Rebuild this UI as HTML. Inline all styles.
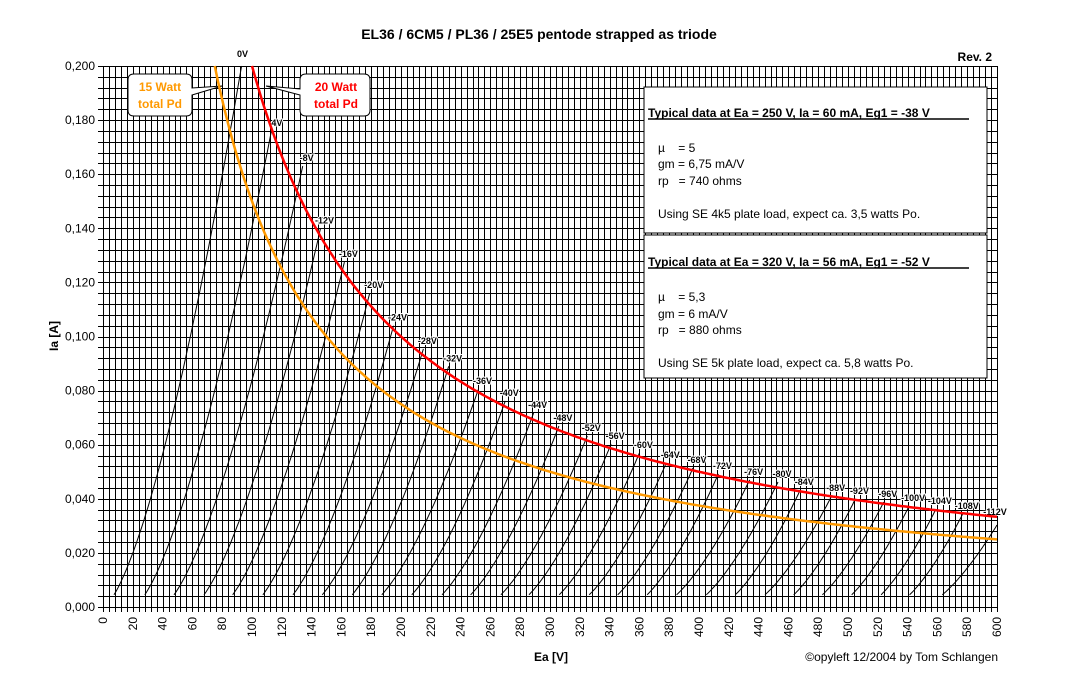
<!DOCTYPE html>
<html><head><meta charset="utf-8"><style>
html,body{margin:0;padding:0;background:#fff;}
svg{display:block;font-family:"Liberation Sans",Arial,sans-serif;}
</style></head><body>
<svg id="chart" width="1078" height="680" viewBox="0 0 1078 680">
<rect x="0" y="0" width="1078" height="680" fill="#fff"/>
<text x="539" y="39" text-anchor="middle" font-size="14" font-weight="bold">EL36 / 6CM5 / PL36 / 25E5 pentode strapped as triode</text>
<text x="992" y="61" text-anchor="end" font-size="12" font-weight="bold">Rev. 2</text>
<g id="grid"></g>
<g id="axes"></g>
<g id="curves"></g>
<g id="power"></g>
<g>
<path d="M134,74 Q128,74 128,80 L128,110 Q128,116 134,116 L186,116 Q192,116 192,110 L192,95 L222,86 L192,88 L192,80 Q192,74 186,74 Z" fill="#fff" stroke="#000" stroke-width="1"/>
<text x="160" y="91" text-anchor="middle" font-size="12" font-weight="bold" fill="#ff9900">15 Watt</text>
<text x="160" y="108" text-anchor="middle" font-size="12" font-weight="bold" fill="#ff9900">total Pd</text>
</g>
<g>
<path d="M306,74 Q300,74 300,80 L300,89 L266,86 L300,95 L300,110 Q300,116 306,116 L364,116 Q370,116 370,110 L370,80 Q370,74 364,74 Z" fill="#fff" stroke="#000" stroke-width="1"/>
<text x="336" y="91" text-anchor="middle" font-size="12" font-weight="bold" fill="#ff0000">20 Watt</text>
<text x="336" y="108" text-anchor="middle" font-size="12" font-weight="bold" fill="#ff0000">total Pd</text>
</g>
<g>
<rect x="644" y="87" width="343" height="146" fill="#fff" stroke="#000" stroke-width="1"/>
<text x="648" y="117" font-size="12" font-weight="bold">Typical data at Ea = 250 V, Ia = 60 mA, Eg1 = -38 V</text>
<line x1="648" y1="119" x2="969" y2="119" stroke="#000" stroke-width="1.5"/>
<text x="658" y="152" font-size="12">µ&#160;&#160;&#160; = 5</text>
<text x="658" y="168" font-size="12">gm = 6,75 mA/V</text>
<text x="658" y="185" font-size="12">rp&#160;&#160; = 740 ohms</text>
<text x="658" y="218" font-size="12">Using SE 4k5 plate load, expect ca. 3,5 watts Po.</text>
</g>
<g>
<rect x="644" y="235" width="343" height="143" fill="#fff" stroke="#000" stroke-width="1"/>
<text x="648" y="266" font-size="12" font-weight="bold">Typical data at Ea = 320 V, Ia = 56 mA, Eg1 = -52 V</text>
<line x1="648" y1="268" x2="969" y2="268" stroke="#000" stroke-width="1.5"/>
<text x="658" y="301" font-size="12">µ&#160;&#160;&#160; = 5,3</text>
<text x="658" y="318" font-size="12">gm = 6 mA/V</text>
<text x="658" y="334" font-size="12">rp&#160;&#160; = 880 ohms</text>
<text x="658" y="367" font-size="12">Using SE 5k plate load, expect ca. 5,8 watts Po.</text>
</g>
<text x="551" y="661" text-anchor="middle" font-size="12" font-weight="bold">Ea [V]</text>
<text transform="translate(58,336) rotate(-90)" text-anchor="middle" font-size="12" font-weight="bold">Ia [A]</text>
<text x="998" y="661" text-anchor="end" font-size="12">©opyleft 12/2004 by Tom Schlangen</text>
</svg>
<script>
const gridVolts = [0,-4,-8,-12,-16,-20,-24,-28,-32,-36,-40,-44,-48,-52,-56,-60,-64,-68,-72,-76,-80,-84,-88,-92,-96,-100,-104,-108,-112];
const cutoffEa = [0,20,39,59,78,98,118,137,157,176,196,216,235,255,274,294,314,333,353,372,392,412,431,451,470,490,510,529,549];
const endEa = [93,113,134,146,162,179,195,215,232,252,270,289,306,325,341,360,378,396,413,434,453,468,489,505,524,541,559,577,600];
const endIa = [0.200,0.176,0.163,0.140,0.1275,0.116,0.104,0.0954,0.089,0.0806,0.0762,0.0717,0.0669,0.0632,0.0603,0.0569,0.0532,0.0514,0.0492,0.047,0.0462,0.0433,0.041,0.040,0.0388,0.0373,0.0362,0.0344,0.0303];
const powerWatts = [15,20];
const powerColors = ['#ff9900','#ff0000'];
const xTicks = [0,20,40,60,80,100,120,140,160,180,200,220,240,260,280,300,320,340,360,380,400,420,440,460,480,500,520,540,560,580,600];
const yTicks = ['0,000','0,020','0,040','0,060','0,080','0,100','0,120','0,140','0,160','0,180','0,200'];

const X0=103,X1=997,Y0=607,Y1=66;
const xs=v=>X0+(v/600)*(X1-X0);
const ys=v=>Y0-(v/0.2)*(Y0-Y1);
const NS='http://www.w3.org/2000/svg';
function mk(tag,parent,attrs){const e=document.createElementNS(NS,tag);for(const k in attrs)e.setAttribute(k,attrs[k]);parent.appendChild(e);return e;}
const grid=document.getElementById('grid'),axes=document.getElementById('axes'),curves=document.getElementById('curves'),power=document.getElementById('power');

for(let i=0;i<=150;i++){const x=Math.round(xs(i*4))+0.5;
 const l=mk('line',grid,{x1:x,y1:Y1,x2:x,y2:Y0+5,stroke:'#000','stroke-width':1});
 
 }
for(let i=0;i<=50;i++){const y=Math.round(ys(i*0.004))+0.5;
 const l=mk('line',grid,{x1:X0-5,y1:y,x2:X1,y2:y,stroke:'#000','stroke-width':1});
 
 }
xTicks.forEach(v=>{const x=xs(v);
 const t=mk('text',axes,{transform:`translate(${x+4},${Y0+10}) rotate(-90)`,'text-anchor':'end','font-size':12});
 t.textContent=String(v);
 
 });
yTicks.forEach((s,i)=>{const y=ys(i*0.02);
 const t=mk('text',axes,{x:X0-8,y:y+4,'text-anchor':'end','font-size':12});
 t.textContent=s;
 
 });

gridVolts.forEach((g,i)=>{const c=cutoffEa[i],e=endEa[i],ia=endIa[i];
 let d='';const n=60;
 const startFrac=Math.pow(0.0045/ia,1/1.5);
 for(let k=0;k<=n;k++){const f=startFrac+(1-startFrac)*k/n;const ea=c+(e-c)*f;const v=ia*Math.pow(f,1.5);
  d+=(k?'L':'M')+xs(ea).toFixed(1)+','+ys(Math.min(v,0.2)).toFixed(1);}
 const p=mk('path',curves,{d:d,fill:'none',stroke:'#000','stroke-width':1});
 
 
 let lx=xs(e)+4,ly=ys(ia)-5;
 if(i===0){lx=xs(e)+1;ly=Y1-9;}
 if(i===gridVolts.length-1){lx=xs(e)-2;ly=ys(ia)-10;}
 const t=mk('text',curves,{x:lx,y:ly,'font-size':9,'font-weight':'bold','text-anchor':'middle',stroke:'#fff','stroke-width':2,'paint-order':'stroke'});
 t.textContent=g+'V';
 
 });

powerWatts.forEach((w,i)=>{let d='';const start=w/0.2;
 for(let ea=start;ea<=600;ea+=2){d+=(d?'L':'M')+xs(ea).toFixed(1)+','+ys(w/ea).toFixed(1);}
 d+='L'+xs(600).toFixed(1)+','+ys(w/600).toFixed(1);
 const p=mk('path',power,{d:d,fill:'none',stroke:powerColors[i],'stroke-width':2.5});
 
 });
const svg=document.getElementById('chart');
svg.appendChild(power);
</script>
</body></html>
